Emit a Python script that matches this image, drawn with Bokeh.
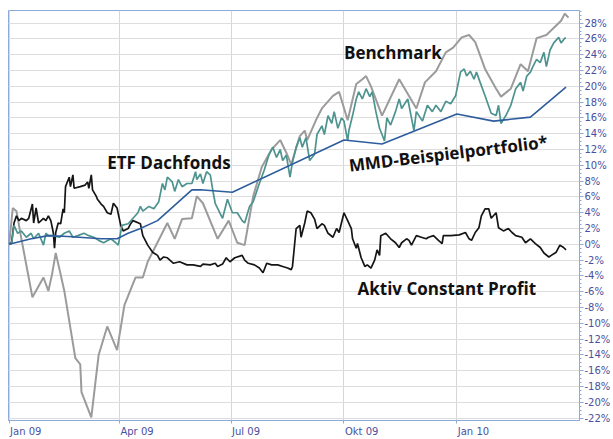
from bokeh.plotting import figure
from bokeh.models import FixedTicker, SingleIntervalTicker, PrintfTickFormatter, Range1d, Label
from bokeh.embed import file_html
from bokeh.resources import INLINE

# x values: days since 2009-01-01; y values: performance in %
quarter_days = [0, 90, 181, 273, 365]
quarter_labels = ["Jan 09", "Apr 09", "Jul 09", "Okt 09", "Jan 10"]

bench_day = [0, 3, 6, 10, 19, 28, 32, 35, 38, 42, 45, 54, 58, 59, 67, 73, 80, 88, 94, 103,
             109, 113, 129, 135, 141, 149, 153, 158, 170, 179, 186, 192, 199, 206, 214, 221, 226, 230, 237, 241,
             243, 251, 255, 264, 269, 276, 283, 288, 291, 295, 304, 318, 332, 339, 348, 356, 362, 369, 375, 380,
             388, 397, 401, 409, 417, 423, 430, 438, 450, 453, 456]
bench_val = [0, 4.6, 4.2, 0.7, -6.7, -4.2, -5.9, -3.8, -1.1, -3.8, -5.9, -14.4, -15.2, -18.7, -21.9, -14.0, -10.4, -13.4, -7.7, -4.2,
             -4.2, -2.2, 2.7, 0.7, 3.2, 3.3, 6.1, 5.2, 0.7, 3.0, 0.2, -0.1, 6.1, 9.8, 12.0, 13.2, 11.6, 10.1, 13.7, 14.4,
             13.2, 16.0, 17.2, 18.8, 19.3, 15.7, 20.3, 20.9, 21.3, 20.0, 16.3, 20.9, 17.2, 20.5, 21.9, 24.3, 24.9, 26.2, 26.5, 25.6,
             22.2, 19.7, 18.7, 19.7, 22.8, 21.9, 26.1, 26.5, 28.3, 29.2, 28.7]

etf_day = [0, 2, 4, 7, 10, 14, 18, 20, 24, 28, 30, 32, 36, 41, 45, 49, 52, 56, 61, 65,
           69, 73, 77, 83, 87, 89, 92, 97, 101, 105, 107, 109, 114, 118, 122, 125, 127, 129, 133, 135,
           138, 141, 145, 149, 152, 153, 156, 158, 161, 164, 166, 168, 174, 178, 182, 186, 190, 192, 196, 199,
           204, 208, 212, 215, 218, 221, 223, 226, 229, 231, 234, 237, 239, 242, 245, 249, 251, 255, 257, 260,
           263, 265, 268, 271, 273, 276, 277, 280, 283, 285, 288, 291, 294, 296, 299, 302, 304, 306, 308, 311,
           315, 318, 320, 325, 328, 330, 332, 337, 341, 345, 348, 352, 356, 360, 364, 368, 371, 373, 376, 379,
           381, 384, 388, 393, 397, 399, 401, 405, 409, 413, 417, 419, 422, 425, 427, 430, 433, 436, 438, 441,
           444, 448, 450, 453, 454]
etf_val = [0, 0.1, 2.4, 1.4, 1.7, 0.9, 1.4, 0.7, 1.4, -0.1, 1.4, 1.1, 1.1, 0.9, 1.4, 1.7, 0.9, 1.1, 1.4, 1.1,
           0.9, 0.5, 0.2, 0.7, 0.2, -0.1, 2.4, 2.6, 3.3, 4.0, 4.8, 4.2, 4.8, 4.5, 5.4, 7.7, 6.9, 8.5, 7.9, 6.7,
           8.2, 7.3, 7.7, 7.7, 9.2, 8.2, 8.9, 7.7, 9.2, 8.8, 6.9, 5.2, 3.3, 5.7, 4.0, 4.0, 3.0, 2.7, 4.8, 5.4,
           7.7, 9.4, 11.4, 12.3, 11.0, 12.0, 10.6, 11.3, 8.5, 10.4, 12.3, 13.5, 12.3, 13.5, 10.6, 11.4, 13.9, 15.0, 13.9, 16.3,
           15.3, 16.8, 14.7, 16.0, 15.6, 13.1, 14.4, 16.3, 18.4, 19.3, 18.4, 19.7, 18.7, 19.3, 16.8, 14.7, 13.9, 13.1, 16.0, 15.1,
           16.8, 18.4, 17.2, 18.4, 16.0, 14.4, 16.8, 15.6, 17.6, 16.8, 17.6, 16.8, 18.1, 17.8, 18.8, 21.8, 22.2, 21.3, 21.9, 20.9,
           21.8, 20.5, 18.8, 16.6, 16.3, 17.6, 15.3, 16.3, 17.6, 19.7, 20.5, 19.4, 21.3, 21.8, 22.5, 23.4, 23.0, 24.3, 22.5, 24.6,
           25.5, 26.2, 25.5, 26.1, 26.1]

mmd_day = [0, 18, 32, 48, 75, 88, 97, 107, 121, 134, 149, 156, 182, 273, 304, 365, 395, 425, 454]
mmd_val = [0, 0.7, 1.1, 1.0, 0.7, 0.7, 1.4, 2.0, 3.0, 4.8, 6.9, 6.9, 6.6, 13.2, 12.7, 16.5, 15.6, 16.1, 19.9]

aktiv_day = [0, 2, 4, 6, 8, 10, 14, 16, 19, 20, 22, 24, 28, 30, 32, 34, 36, 37, 38, 40,
             42, 44, 45, 46, 49, 50, 52, 53, 58, 62, 64, 65, 67, 68, 71, 72, 75, 77, 80, 83,
             85, 88, 91, 93, 97, 99, 101, 107, 109, 113, 117, 121, 123, 126, 129, 134, 139, 145, 150, 156,
             158, 164, 168, 170, 174, 177, 180, 184, 190, 192, 195, 200, 204, 207, 210, 214, 219, 223, 227, 230,
             231, 234, 237, 238, 241, 243, 246, 249, 251, 255, 257, 260, 264, 267, 269, 273, 276, 279, 280, 283,
             284, 287, 290, 292, 295, 298, 300, 302, 303, 307, 311, 315, 318, 320, 324, 326, 328, 332, 336, 340,
             342, 346, 350, 353, 354, 360, 367, 372, 375, 377, 380, 383, 385, 388, 391, 393, 397, 399, 403, 407,
             410, 413, 418, 421, 425, 429, 433, 436, 440, 442, 446, 449, 452, 454]
aktiv_val = [0, 0.2, 2.7, 3.6, 3.0, 3.3, 3.0, 3.3, 5.1, 2.7, 4.6, 2.7, 3.3, 3.0, 3.6, 3.0, 1.5, -0.5, 1.5, 2.7,
             2.6, 4.5, 4.0, 7.3, 8.5, 7.3, 8.8, 7.1, 7.3, 7.5, 7.9, 7.1, 8.8, 6.9, 6.1, 5.7, 5.1, 4.8, 4.0, 3.8,
             5.2, 4.6, 2.4, 1.7, 2.0, 2.6, 3.0, 2.6, 1.1, -0.1, -1.0, -1.4, -2.0, -1.6, -1.7, -2.4, -2.2, -2.6, -2.6, -2.8,
             -2.5, -2.6, -2.4, -2.8, -2.5, -1.7, -2.2, -1.7, -1.4, -2.0, -2.4, -2.6, -3.0, -3.6, -2.4, -2.6, -2.6, -2.8, -3.0, -3.2,
             -2.8, 2.0, 2.4, 0.9, 2.7, 4.2, 4.0, 3.2, 2.0, 2.6, 2.4, 1.4, 0.9, 2.0, 1.5, 4.0, 3.0, 2.0, 0.7, -0.5,
             0.1, -1.7, -2.8, -2.6, -3.0, -2.0, -0.7, -1.4, 1.1, 1.4, 0.7, 0.2, -0.4, 0.2, 0.7, 0.5, -0.1, 1.1, 0.9, 0.7,
             0.9, 1.1, 0.5, 0.1, 1.1, 1.1, 1.2, 1.5, 0.7, 0.5, 1.5, 2.1, 3.6, 4.5, 4.5, 3.3, 4.0, 2.1, 1.7, 2.0,
             1.5, 1.1, 0.9, 0.2, 0.7, 0.1, -0.4, -1.1, -1.6, -1.4, -1.0, -0.1, -0.4, -0.7]

series_names = ["ETF Dachfonds", "Benchmark", "MMD-Beispielportfolio*", "Aktiv Constant Profit"]

AXIS_BLUE = "#8eaadb"
TEXT_BLUE = "#4a50a0"
Y_MIN, Y_MAX = -22.3, 29.6
X_MIN, X_MAX = -0.5, 465
PX_PER_DAY = 574 / (X_MAX - X_MIN)
# half widths (px) of the date labels, so each label starts at its quarter tick (left aligned)
LABEL_HALF_PX = [16.7, 17.6, 15.0, 17.8, 16.7]
label_centers = [d + w / PX_PER_DAY for d, w in zip(quarter_days, LABEL_HALF_PX)]

p = figure(width=613, height=439,
           x_range=Range1d(X_MIN, X_MAX), y_range=Range1d(Y_MIN, Y_MAX),
           y_axis_location="right", output_backend="svg", toolbar_location=None,
           min_border_left=8, min_border_top=10, min_border_right=0, min_border_bottom=0,
           background_fill_color="white", border_fill_color="white")
p.outline_line_color = AXIS_BLUE
p.outline_line_width = 1

# y axis (right)
yax = p.yaxis[0]
yax.ticker = SingleIntervalTicker(interval=2, num_minor_ticks=4)
yax.formatter = PrintfTickFormatter(format="%d%%")
yax.axis_line_color = AXIS_BLUE
yax.major_tick_line_color = AXIS_BLUE
yax.minor_tick_line_color = AXIS_BLUE
yax.major_tick_in = 0
yax.major_tick_out = 4
yax.minor_tick_in = 0
yax.minor_tick_out = 2
yax.major_label_standoff = 1
yax.major_label_text_font = "DejaVu Sans"
yax.major_label_text_font_size = "10px"
yax.major_label_text_color = TEXT_BLUE

# x axis (bottom): small tick marks at the quarters (minor ticks), labels left-aligned to them
xax = p.xaxis[0]
xax.ticker = FixedTicker(ticks=label_centers, minor_ticks=quarter_days)
xax.major_label_overrides = {c: lab for c, lab in zip(label_centers, quarter_labels)}
xax.axis_line_color = AXIS_BLUE
xax.major_tick_line_color = None
xax.minor_tick_line_color = AXIS_BLUE
xax.major_tick_in = 0
xax.major_tick_out = 0
xax.minor_tick_in = 0
xax.minor_tick_out = 3
xax.major_label_standoff = 2
xax.major_label_text_font = "DejaVu Sans"
xax.major_label_text_font_size = "10px"
xax.major_label_text_color = TEXT_BLUE

p.xgrid.ticker = FixedTicker(ticks=quarter_days)
p.xgrid.grid_line_color = "#d6d6d6"
p.ygrid.grid_line_color = "#dedede"

p.line(bench_day, bench_val, line_color="#9b9b9b", line_width=2)
p.line(aktiv_day, aktiv_val, line_color="#151515", line_width=1.7)
p.line(etf_day, etf_val, line_color="#4d938f", line_width=1.7)
p.line(mmd_day, mmd_val, line_color="#2d5d9d", line_width=1.6)

label_style = dict(text_font="Open Sans", text_font_style="bold", text_font_size="17px",
                   text_color="#111111", text_baseline="alphabetic", text_align="left")
p.add_layout(Label(x=80, y=10.4, text=series_names[0], **label_style))
p.add_layout(Label(x=273, y=24.3, text=series_names[1], **label_style))
p.add_layout(Label(x=277, y=10.0, text=series_names[2], angle=0.12, **label_style))
p.add_layout(Label(x=284, y=-5.6, text=series_names[3], **label_style))

html = file_html(p, INLINE, title="Chart")
open("out.html", "w").write(html)
